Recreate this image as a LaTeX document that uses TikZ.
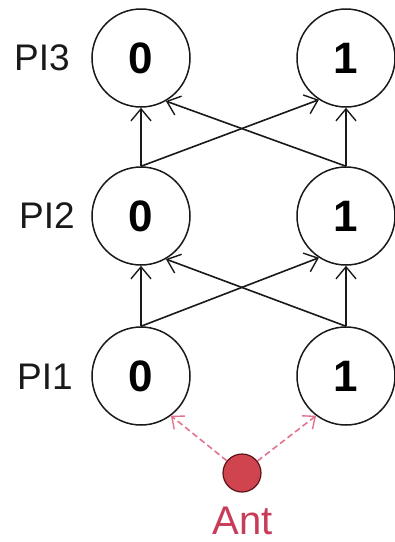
\documentclass[tikz,border=0pt]{standalone}
\usepackage{fontspec}
\setmainfont{Liberation Sans}
\usetikzlibrary{arrows.meta}
\definecolor{antred}{RGB}{208,68,80}
\definecolor{antrim}{RGB}{90,20,25}
\definecolor{antlabel}{RGB}{200,60,90}
\definecolor{antpath}{RGB}{225,115,140}
\definecolor{ink}{RGB}{25,25,25}
\begin{document}
\begin{tikzpicture}[x=1pt,y=-1pt,
  state/.style={circle,draw=ink,line width=1.5pt,minimum size=98pt,inner sep=0pt,
    font=\fontsize{44}{44}\selectfont\bfseries},
  level/.style={font=\fontsize{37}{37}\selectfont,text=ink},
  link/.style={draw=ink,line width=1.6pt,-{Straight Barb[length=12pt,width=20pt,line width=1.4pt]}},
  choice/.style={draw=antpath,line width=1.6pt,dash pattern=on 6pt off 3.5pt,
    -{Straight Barb[length=10pt,width=17pt,line width=1.4pt]}},
  ant/.style={circle,fill=antred,draw=antrim,line width=1.2pt,minimum size=38pt,inner sep=0pt}]
\useasboundingbox (0,0) rectangle (395,542);

% pheromone levels, bottom to top
\node[state] (a0) at (141,376) {0};
\node[state] (a1) at (346,376) {1};
\node[state] (b0) at (141,216) {0};
\node[state] (b1) at (346,216) {1};
\node[state] (c0) at (141,58) {0};
\node[state] (c1) at (346,58) {1};

\node[level] (la) at (45,377) {PI1};
\node[level] (lb) at (47,216) {PI2};
\node[level] (lc) at (42,58) {PI3};

% transitions between consecutive levels
\draw[link] (a0.north) -- (b0.south);
\draw[link] (a0.north) -- (b1.-123);
\draw[link] (a1.north) -- (b1.south);
\draw[link] (a1.north) -- (b0.-60);
\draw[link] (b0.north) -- (c0.south);
\draw[link] (b0.north) -- (c1.-123);
\draw[link] (b1.north) -- (c1.south);
\draw[link] (b1.north) -- (c0.-60);

% the ant and its first choice
\node[ant] (ant) at (242,473) {};
\node[text=antlabel,font=\fontsize{40}{40}\selectfont,inner sep=0pt] (antname) at (243,521) {Ant};
\draw[choice] (ant) -- (a0.-53);
\draw[choice] (ant) -- (a1.-127);
\end{tikzpicture}
\end{document}
